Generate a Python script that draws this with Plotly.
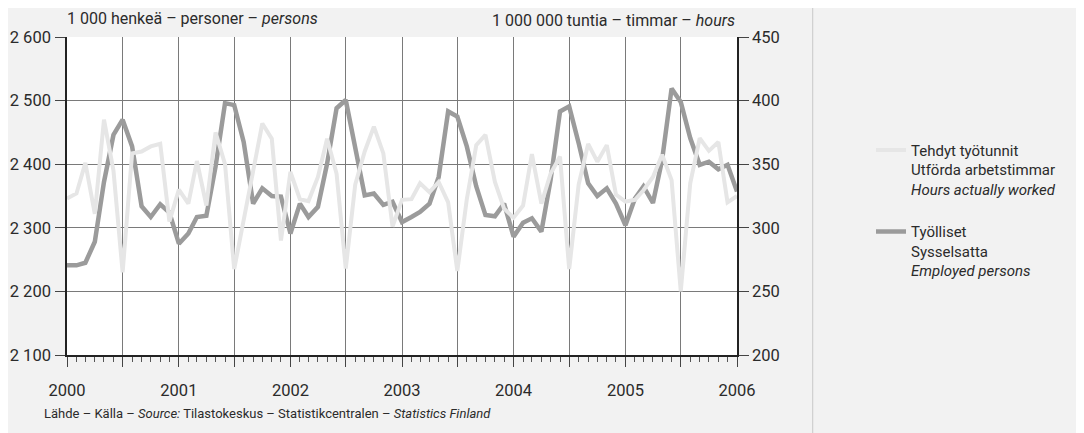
import plotly.graph_objects as go
import pandas as pd

# Monthly observations, Jan 2000 .. Jan 2006
months = pd.date_range("2000-01-01", "2006-01-01", freq="MS")

# Employed persons, 1 000 persons (left axis)
employed = [2241, 2241, 2245, 2278, 2372, 2446, 2470, 2428, 2334, 2317, 2337, 2324,
            2275, 2291, 2317, 2319, 2396, 2496, 2493, 2435, 2338, 2362, 2350, 2349,
            2291, 2338, 2317, 2333, 2401, 2488, 2501, 2422, 2351, 2354, 2336, 2341,
            2309, 2317, 2325, 2338, 2380, 2483, 2475, 2428, 2365, 2320, 2318, 2338,
            2286, 2308, 2315, 2294, 2375, 2483, 2491, 2433, 2370, 2350, 2362, 2338,
            2304, 2346, 2365, 2339, 2407, 2519, 2498, 2441, 2399, 2404, 2392, 2399,
            2357]

# Hours actually worked, 1 000 000 hours (right axis)
hours = [323, 327, 351, 311, 385, 345, 265, 358.5, 360, 364, 366, 305,
         330, 319, 352.5, 317.5, 375, 350, 267.5, 307.5, 345.5, 382, 370, 290,
         344, 322.5, 321, 340, 370, 342.5, 268, 334, 360, 379.5, 358.5, 301,
         322, 322.5, 335, 328, 336, 320, 266, 322.5, 365, 373, 336, 315,
         308, 317.5, 358, 319, 342.5, 356, 267.5, 334, 366, 352, 365, 326,
         320.5, 322, 329.5, 340, 357.5, 337.5, 250, 335, 370.5, 360.5, 367.5, 320,
         325]

left_ticks = [2100, 2200, 2300, 2400, 2500, 2600]
left_labels = ["2 100", "2 200", "2 300", "2 400", "2 500", "2 600"]
right_ticks = [200, 250, 300, 350, 400, 450]
years = [2000, 2001, 2002, 2003, 2004, 2005, 2006]

FONT = "Roboto, Liberation Sans, sans-serif"
TXT = "#2b2b2b"

xtickvals = []
xticktext = []
for y in years:
    xtickvals.append(pd.Timestamp(f"{y}-01-01"))
    xticktext.append(str(y))
    if y < 2006:
        xtickvals.append(pd.Timestamp(f"{y}-07-01"))
        xticktext.append("")

fig = go.Figure()
fig.add_trace(go.Scatter(
    x=months, y=hours, yaxis="y2", mode="lines",
    line=dict(color="#e6e6e6", width=4),
    name="Tehdyt työtunnit<br>Utförda arbetstimmar<br><i>Hours actually worked</i>",
    legendgroup="a"))
fig.add_trace(go.Scatter(
    x=months, y=employed, mode="lines",
    line=dict(color="#9b9b9b", width=4.5),
    name="Työlliset<br>Sysselsatta<br><i>Employed persons</i>",
    legendgroup="b"))

# the page body adds an 8 px offset, so margins are reduced by 8 px on left/top
fig.update_layout(
    width=1084, height=433,
    margin=dict(l=59, r=355, t=29, b=86, autoexpand=False),
    paper_bgcolor="#f2f2f2", plot_bgcolor="#ffffff",
    font=dict(family=FONT, size=16, color=TXT),
    showlegend=True,
    legend=dict(x=1.2, y=0.696, xanchor="left", yanchor="top",
                bgcolor="rgba(0,0,0,0)", valign="top",
                font=dict(size=15, color=TXT), tracegroupgap=20,
                itemwidth=30),
    xaxis=dict(
        type="date", range=[pd.Timestamp("2000-01-01"), pd.Timestamp("2006-01-01")],
        tickvals=xtickvals, ticktext=xticktext,
        ticks="outside", ticklen=10, tickwidth=1, tickcolor="#444",
        showgrid=True, gridcolor="#7a7a7a", gridwidth=1,
        showline=True, linecolor="#222", linewidth=1.5,
        minor=dict(dtick="M1", tick0="2000-01-01", ticks="outside", ticklen=5,
                   tickcolor="#555", showgrid=False),
        tickfont=dict(size=16.5), zeroline=False, automargin=False,
        ticklabelstandoff=9,
    ),
    yaxis=dict(
        range=[2100, 2600], tickvals=left_ticks, ticktext=left_labels,
        ticks="outside", ticklen=10, tickcolor="#444",
        showgrid=True, gridcolor="#7a7a7a", gridwidth=1,
        showline=True, linecolor="#222", linewidth=1.5,
        zeroline=False, tickfont=dict(size=16.5), automargin=False,
        ticklabelstandoff=1,
    ),
    yaxis2=dict(
        range=[200, 450], tickvals=right_ticks, overlaying="y", side="right",
        ticks="outside", ticklen=10, tickcolor="#444",
        showgrid=False, showline=True, linecolor="#222", linewidth=1.5,
        zeroline=False, tickfont=dict(size=16.5), automargin=False,
        ticklabelstandoff=0,
    ),
)

fig.add_annotation(xref="paper", yref="paper", x=-0.003, y=1.0, yshift=7,
                   xanchor="left", yanchor="bottom", showarrow=False,
                   text="1 000 henkeä – personer – <i>persons</i>",
                   font=dict(size=16, color=TXT))
fig.add_annotation(xref="paper", yref="paper", x=1.0, y=1.0, yshift=5,
                   xanchor="right", yanchor="bottom", showarrow=False,
                   text="1 000 000 tuntia – timmar – <i>hours</i>",
                   font=dict(size=16, color=TXT))
fig.add_annotation(xref="paper", yref="paper", x=-0.037, y=-0.165, yshift=3,
                   xanchor="left", yanchor="top", showarrow=False,
                   text="Lähde – Källa – <i>Source:</i> Tilastokeskus – Statistikcentralen – <i>Statistics Finland</i>",
                   font=dict(size=13, color=TXT))
fig.add_shape(type="line", xref="paper", yref="paper", x0=1.113, x1=1.113,
              y0=-0.3, y1=1.12, line=dict(color="#c8c8c8", width=1))

fig.write_html("out.html")
